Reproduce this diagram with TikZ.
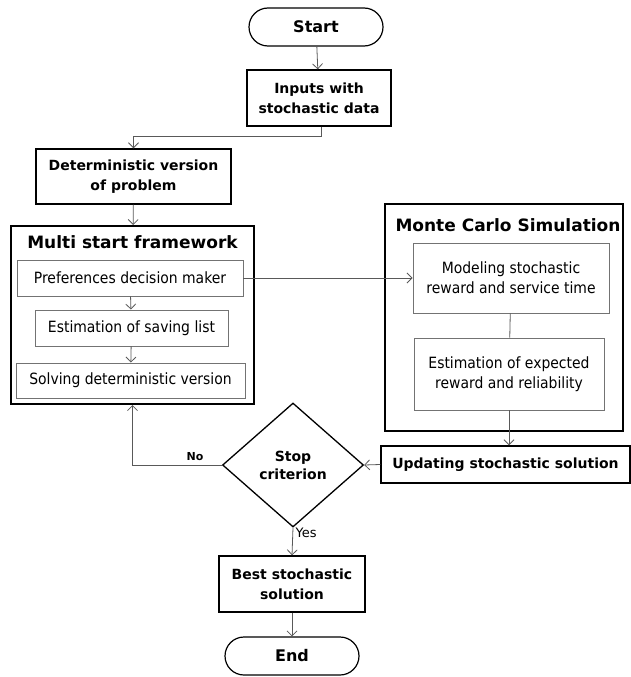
\documentclass[tikz,border=0pt]{standalone}
\usepackage{fontspec}
\setmainfont{DejaVu Sans}
\newfontfamily\condfont{DejaVu Sans Condensed}
\usetikzlibrary{arrows.meta,shapes.geometric}

\tikzset{
  block/.style={draw, line width=1.4pt, align=center, inner sep=0pt,
    font=\fontsize{14}{20}\selectfont\bfseries},
  sub/.style={draw=black!55, line width=0.9pt, align=center, inner sep=0pt,
    font=\condfont\fontsize{15.5}{20}\selectfont},
  frame/.style={draw, line width=2pt, inner sep=0pt},
  caption/.style={font=\fontsize{17}{20}\selectfont\bfseries},
  terminal/.style={draw, line width=1.2pt, rounded corners=19pt, inner sep=0pt,
    minimum width=134pt, minimum height=38pt, font=\fontsize{16}{18}\selectfont\bfseries},
  decision/.style={diamond, draw, line width=1.3pt, inner sep=0pt, aspect=1.14,
    minimum width=141pt, minimum height=124pt, align=center,
    font=\fontsize{14}{18}\selectfont\bfseries},
  flow/.style={draw=black!65, line width=0.8pt},
}

\begin{document}
\begin{tikzpicture}[x=1pt,y=-1pt,>={Straight Barb[length=5pt,width=10pt]}]
  \useasboundingbox (0,0) rectangle (631,677);

  \node[terminal] (start) at (316,27) {Start};
  \node[block, minimum width=144pt, minimum height=56pt] (inputs) at (319,98) {Inputs with\\stochastic data};
  \node[block, minimum width=195pt, minimum height=55pt] (determ) at (133.5,176.5) {Deterministic version\\of problem};

  \node[frame, minimum width=243pt, minimum height=178pt] (multi) at (132.5,315) {};
  \node[caption] (multicap) at (132.5,242) {Multi start framework};
  \node[sub, minimum width=226pt, minimum height=36pt] (pref) at (130,278) {Preferences decision maker};
  \node[sub, minimum width=193pt, minimum height=36pt] (saving) at (131.5,328) {Estimation of saving list};
  \node[sub, minimum width=229pt, minimum height=35pt] (solving) at (130.5,380.5) {Solving deterministic version};

  \node[frame, minimum width=238pt, minimum height=227pt] (monte) at (504,317.5) {};
  \node[caption] (montecap) at (508,225) {Monte Carlo Simulation};
  \node[sub, minimum width=196pt, minimum height=70pt] (model) at (511,278) {Modeling stochastic\\reward and service time};
  \node[sub, minimum width=190pt, minimum height=72pt] (expect) at (509,374) {Estimation of expected\\reward and reliability};

  \node[block, minimum width=249pt, minimum height=37pt] (update) at (505.5,464.5) {Updating stochastic solution};
  \node[decision] (stop) at (293,465) {Stop\\criterion};
  \node[block, minimum width=146pt, minimum height=56pt] (best) at (292,584) {Best stochastic\\solution};
  \node[terminal] (end) at (292,656) {End};

  \draw[flow,->] (start) -- (inputs);
  \draw[flow,->] (inputs.south) ++(2,0) -- ++(0,10) -| (determ.north);
  \draw[flow,->] (determ) -- (multi);
  \draw[flow,->] (pref) -- (saving);
  \draw[flow,->] (saving) -- (solving);
  \draw[flow,->] (pref.east) -- (model.west);
  \draw[flow] (model) -- (expect);
  \draw[flow,->] (expect.south) -- (expect.south |- update.north);
  \draw[flow,->] (update.west) -- (stop.east);
  \draw[flow,->] (stop.west) -| node[pos=0.15, above=1pt, font=\fontsize{11}{13}\selectfont\bfseries] {No} (multi.south);
  \draw[flow,->] (stop.south) -- node[pos=0.2, right=-1pt, font=\fontsize{13}{15}\selectfont] {Yes} (best.north);
  \draw[flow,->] (best) -- (end);
\end{tikzpicture}
\end{document}
